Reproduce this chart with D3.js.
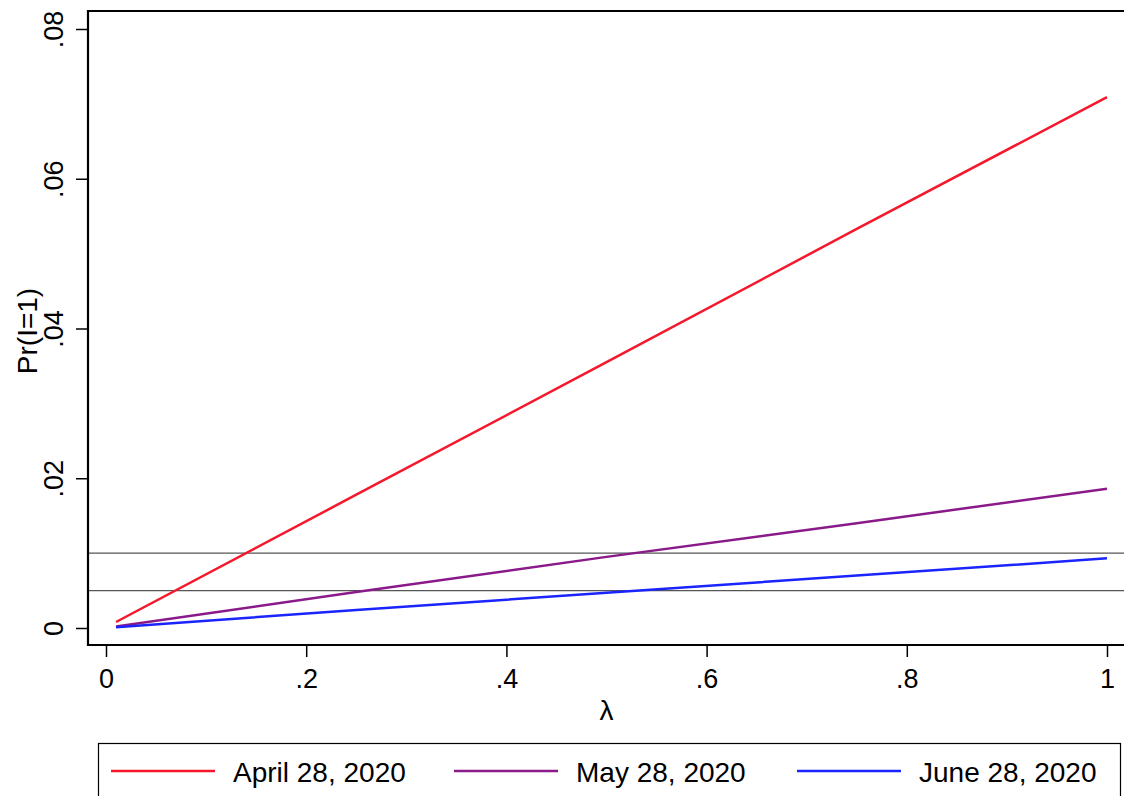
<!DOCTYPE html>
<html lang="en">
<head>
<meta charset="utf-8">
<title>Pr(I=1) by lambda</title>
<script src="https://cdn.jsdelivr.net/npm/d3@7"></script>
<style>
  body { margin: 0; background: #fff; }
  text { font-family: "Liberation Sans", Arial, Helvetica, sans-serif; fill: #000; }
</style>
</head>
<body>
<script>
var width = 1124;
var height = 796;

// values
var lambdas = [0.01, 0.25, 0.5, 0.75, 1];
var april = [0.0008, 0.0178, 0.0355, 0.0533, 0.0709];
var may = [0.0002, 0.0048, 0.0095, 0.0140, 0.0186];
var june = [0.0001, 0.0024, 0.0047, 0.0070, 0.0093];
var seriesNames = ["April 28, 2020", "May 28, 2020", "June 28, 2020"];
var refLines = [0.01, 0.005];
var xTicks = [0, 0.2, 0.4, 0.6, 0.8, 1];
var yTicks = [0, 0.02, 0.04, 0.06, 0.08];

var colors = ["#f5172b", "#8a1a8a", "#1a24ff"];
var seriesVals = [april, may, june];

var svg = d3.select("body").append("svg")
  .attr("width", width)
  .attr("height", height);

var x = d3.scaleLinear().domain([0, 1]).range([106, 1107]);
var y = d3.scaleLinear().domain([0, 0.08]).range([628, 29]);

var plotLeft = 88, plotTop = 11, plotBottom = 645, plotRight = 1130;

function fmt(v) {
  if (v === 0) return "0";
  if (v === 1) return "1";
  return String(v).replace(/^0/, "");
}

// reference lines
svg.selectAll(".ref")
  .data(refLines)
  .enter()
  .append("line")
  .attr("x1", plotLeft)
  .attr("x2", plotRight)
  .attr("y1", function(d) { return y(d); })
  .attr("y2", function(d) { return y(d); })
  .attr("stroke", "#555")
  .attr("stroke-width", 1.2);

// series lines
var line = d3.line()
  .x(function(d) { return x(d[0]); })
  .y(function(d) { return y(d[1]); });

seriesVals.forEach(function(vals, i) {
  svg.append("path")
    .datum(lambdas.map(function(l, j) { return [l, vals[j]]; }))
    .attr("d", line)
    .attr("fill", "none")
    .attr("stroke", colors[i])
    .attr("stroke-width", 2.5);
});

// plot frame (top + left + bottom)
svg.append("path")
  .attr("d", "M" + plotRight + "," + plotTop + "H" + plotLeft + "V" + plotBottom + "H" + plotRight)
  .attr("fill", "none")
  .attr("stroke", "#000")
  .attr("stroke-width", 2.2);

// y axis
var yAxis = d3.axisLeft(y).tickValues(yTicks).tickSize(12).tickFormat(fmt);
var gy = svg.append("g").attr("transform", "translate(" + plotLeft + ",0)").call(yAxis);
gy.select(".domain").remove();
gy.selectAll(".tick line").attr("stroke", "#000").attr("stroke-width", 1.5);
gy.selectAll(".tick text")
  .attr("font-size", 27)
  .attr("x", 0)
  .attr("dy", 0)
  .attr("text-anchor", "middle")
  .attr("transform", "translate(-25,0) rotate(-90)");

// x axis
var xAxis = d3.axisBottom(x).tickValues(xTicks).tickSize(12).tickFormat(fmt);
var gx = svg.append("g").attr("transform", "translate(0," + plotBottom + ")").call(xAxis);
gx.select(".domain").remove();
gx.selectAll(".tick line").attr("stroke", "#000").attr("stroke-width", 1.5);
gx.selectAll(".tick text").attr("font-size", 27).attr("y", 43).attr("dy", 0);

// axis titles
svg.append("text")
  .attr("transform", "translate(37,331) rotate(-90)")
  .attr("text-anchor", "middle")
  .attr("font-size", 28)
  .text("Pr(I=1)");

svg.append("text")
  .attr("x", x(0.5))
  .attr("y", 720)
  .attr("text-anchor", "middle")
  .attr("font-size", 28)
  .text("λ");

// legend
svg.append("rect")
  .attr("x", 98.5)
  .attr("y", 743.5)
  .attr("width", 1022)
  .attr("height", 70)
  .attr("fill", "#fff")
  .attr("stroke", "#000")
  .attr("stroke-width", 1.2);

var legendX = [111, 454, 797];
seriesNames.forEach(function(name, i) {
  svg.append("line")
    .attr("x1", legendX[i])
    .attr("x2", legendX[i] + 104)
    .attr("y1", 771)
    .attr("y2", 771)
    .attr("stroke", colors[i])
    .attr("stroke-width", 2.5);
  svg.append("text")
    .attr("x", legendX[i] + 122)
    .attr("y", 782)
    .attr("font-size", 28)
    .text(name);
});
</script>
</body>
</html>
